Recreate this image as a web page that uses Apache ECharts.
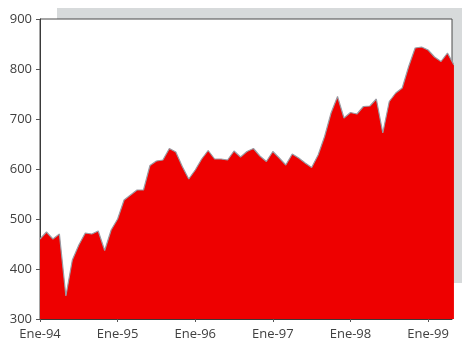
<!DOCTYPE html>
<html>
<head>
<meta charset="utf-8">
<script src="https://cdn.jsdelivr.net/npm/echarts@6/dist/echarts.min.js"></script>
<style>
  html, body { margin: 0; padding: 0; background: #ffffff; }
  #chart { width: 463px; height: 343px; }
</style>
</head>
<body>
<div id="chart"></div>
<script>
// Monthly index, January 1994 onward
const monthlyValues = [
  460, 474, 460, 470, 346, 418, 448, 472, 470, 476, 437, 478,   // 1994
  500, 538, 548, 558, 558, 607, 616, 618, 641, 634, 605, 580,   // 1995
  598, 620, 637, 620, 620, 618, 636, 624, 635, 641, 626, 615,   // 1996
  635, 622, 608, 630, 622, 612, 603, 628, 665, 712, 745, 702,   // 1997
  713, 710, 725, 726, 740, 672, 735, 752, 762, 805, 842, 844,   // 1998
  838, 824, 815, 832, 808                                       // 1999
];
const yearLabels = ['Ene-94', 'Ene-95', 'Ene-96', 'Ene-97', 'Ene-98', 'Ene-99'];
const yearTicks = [0, 12, 24, 36, 48, 60];

const chart = echarts.init(document.getElementById('chart'), null, { renderer: 'canvas' });

const labelFont = { color: '#404040', fontSize: 13, fontFamily: 'Open Sans' };

chart.setOption({
  animation: false,
  backgroundColor: '#ffffff',
  graphic: [
    // grey drop-shadow strips above and right of the plot frame
    { type: 'rect', shape: { x: 57, y: 8, width: 395, height: 11 }, style: { fill: '#d7dadb' }, z: -1 },
    { type: 'rect', shape: { x: 452, y: 8, width: 10, height: 275 }, style: { fill: '#d7dadb' }, z: -1 }
  ],
  grid: {
    left: 40, right: 11, top: 19, bottom: 24,
    show: true, backgroundColor: '#ffffff',
    borderColor: '#4a4a4a', borderWidth: 1
  },
  xAxis: {
    type: 'value',
    min: 0, max: 63.7, interval: 12,
    splitLine: { show: false },
    axisLine: { show: true, lineStyle: { color: '#3a3a3a', width: 1 } },
    axisTick: { show: true, length: 3, customValues: yearTicks, lineStyle: { color: '#555' } },
    axisLabel: Object.assign({
      customValues: yearTicks,
      margin: 9,
      formatter: v => yearLabels[Math.round(v / 12)] || ''
    }, labelFont)
  },
  yAxis: {
    type: 'value',
    min: 300, max: 900, interval: 100,
    splitLine: { show: false },
    axisLine: { show: true, lineStyle: { color: '#3a3a3a', width: 1 } },
    axisTick: { show: true, length: 4, lineStyle: { color: '#555' } },
    axisLabel: Object.assign({ margin: 8 }, labelFont)
  },
  series: [{
    type: 'line',
    data: monthlyValues.map((v, i) => [i, v]),
    symbol: 'none',
    clip: true,
    lineStyle: { color: '#9a9aa2', width: 1.2 },
    areaStyle: { color: '#ee0000', opacity: 1 }
  }]
});
</script>
</body>
</html>
